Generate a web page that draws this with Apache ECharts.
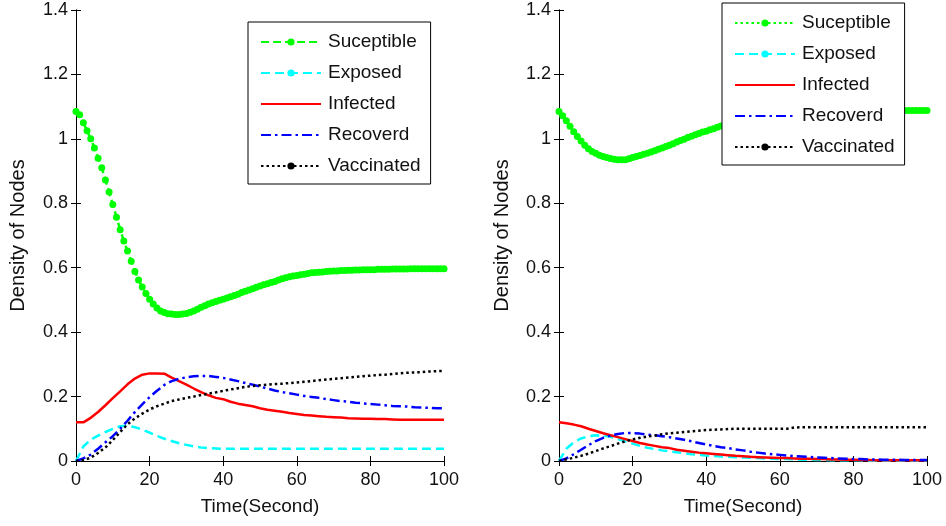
<!DOCTYPE html>
<html>
<head>
<meta charset="utf-8">
<title>SEIRV density</title>
<script src="https://cdn.jsdelivr.net/npm/echarts@6/dist/echarts.min.js"></script>
<style>
  html, body { margin: 0; padding: 0; background: #fff; }
  #chart { width: 946px; height: 526px; }
</style>
</head>
<body>
<div id="chart"></div>
<script>
// time axis (seconds) for the coarse curves
const time = [0, 2, 4, 6, 8, 10, 12, 14, 16, 18, 20, 22, 24, 26, 28, 30, 32, 34, 36, 38, 40,
  42, 44, 46, 48, 50, 52, 54, 56, 58, 60, 62, 64, 66, 68, 70, 72, 74, 76, 78, 80,
  82, 84, 86, 88, 90, 92, 94, 96, 98, 100];
// the susceptible curves carry a marker every second
const timeFine = [0, 1, 2, 3, 4, 5, 6, 7, 8, 9, 10, 11, 12, 13, 14, 15, 16, 17, 18, 19, 20,
  21, 22, 23, 24, 25, 26, 27, 28, 29, 30, 31, 32, 33, 34, 35, 36, 37, 38, 39, 40,
  41, 42, 43, 44, 45, 46, 47, 48, 49, 50, 51, 52, 53, 54, 55, 56, 57, 58, 59, 60,
  61, 62, 63, 64, 65, 66, 67, 68, 69, 70, 71, 72, 73, 74, 75, 76, 77, 78, 79, 80,
  81, 82, 83, 84, 85, 86, 87, 88, 89, 90, 91, 92, 93, 94, 95, 96, 97, 98, 99, 100];

const yTicks = [0, 0.2, 0.4, 0.6, 0.8, 1, 1.2, 1.4];

const seriesNames = ["Suceptible", "Exposed", "Infected", "Recoverd", "Vaccinated"];

// left panel
const leftSusceptible = [1.085, 1.075, 1.05, 1.025, 1.0, 0.972, 0.94, 0.91, 0.872, 0.835, 0.796,
  0.757, 0.718, 0.683, 0.652, 0.620, 0.588, 0.562, 0.540, 0.520, 0.502,
  0.487, 0.475, 0.466, 0.461, 0.457, 0.456, 0.455, 0.455, 0.456, 0.458,
  0.462, 0.466, 0.471, 0.477, 0.482, 0.487, 0.491, 0.495, 0.499, 0.502,
  0.506, 0.510, 0.514, 0.518, 0.523, 0.527, 0.531, 0.535, 0.539, 0.543,
  0.547, 0.550, 0.554, 0.557, 0.562, 0.566, 0.569, 0.572, 0.574, 0.576,
  0.578, 0.580, 0.582, 0.584, 0.585, 0.586, 0.587, 0.588, 0.589, 0.590,
  0.590, 0.591, 0.591, 0.592, 0.592, 0.593, 0.593, 0.594, 0.594, 0.594,
  0.594, 0.595, 0.595, 0.595, 0.595, 0.596, 0.596, 0.596, 0.596, 0.596,
  0.597, 0.597, 0.597, 0.597, 0.597, 0.597, 0.597, 0.597, 0.597, 0.597];
const leftExposed = [0, 0.045, 0.066, 0.079, 0.09, 0.1, 0.108, 0.11, 0.105, 0.097, 0.088,
  0.078, 0.069, 0.062, 0.055, 0.05, 0.045, 0.042, 0.04, 0.039, 0.038,
  0.038, 0.038, 0.038, 0.038, 0.038, 0.038, 0.038, 0.038, 0.038, 0.038,
  0.038, 0.038, 0.038, 0.038, 0.038, 0.038, 0.038, 0.038, 0.038, 0.038,
  0.038, 0.038, 0.038, 0.038, 0.038, 0.038, 0.038, 0.038, 0.038, 0.038];
const leftInfected = [0.12, 0.12, 0.134, 0.152, 0.173, 0.195, 0.216, 0.238, 0.256, 0.268, 0.272,
  0.272, 0.271, 0.259, 0.248, 0.237, 0.225, 0.214, 0.204, 0.196, 0.192,
  0.184, 0.178, 0.174, 0.170, 0.164, 0.159, 0.156, 0.153, 0.149, 0.146,
  0.143, 0.141, 0.139, 0.137, 0.136, 0.135, 0.133, 0.132, 0.131, 0.131,
  0.130, 0.130, 0.129, 0.128, 0.128, 0.128, 0.128, 0.128, 0.128, 0.128];
const leftRecovered = [0, 0.008, 0.02, 0.038, 0.058, 0.077, 0.1, 0.125, 0.152, 0.176, 0.198,
  0.218, 0.236, 0.248, 0.255, 0.260, 0.263, 0.264, 0.264, 0.261, 0.258,
  0.253, 0.248, 0.242, 0.237, 0.231, 0.225, 0.219, 0.214, 0.210, 0.206,
  0.202, 0.199, 0.196, 0.192, 0.189, 0.186, 0.184, 0.181, 0.179, 0.177,
  0.175, 0.173, 0.171, 0.170, 0.169, 0.167, 0.166, 0.165, 0.164, 0.164];
const leftVaccinated = [0, 0.003, 0.01, 0.025, 0.042, 0.065, 0.09, 0.114, 0.132, 0.147, 0.16,
  0.17, 0.178, 0.186, 0.191, 0.196, 0.2, 0.205, 0.209, 0.213, 0.218,
  0.222, 0.226, 0.23, 0.233, 0.235, 0.237, 0.239, 0.24, 0.242, 0.244,
  0.246, 0.248, 0.251, 0.253, 0.255, 0.257, 0.259, 0.261, 0.263, 0.265,
  0.267, 0.268, 0.27, 0.272, 0.274, 0.275, 0.276, 0.278, 0.279, 0.28];

// right panel
const rightSusceptible = [1.085, 1.072, 1.056, 1.039, 1.022, 1.007, 0.993, 0.980, 0.969, 0.961, 0.955,
  0.949, 0.945, 0.942, 0.939, 0.937, 0.935, 0.935, 0.935, 0.938, 0.942,
  0.945, 0.948, 0.952, 0.955, 0.959, 0.963, 0.968, 0.972, 0.976, 0.980,
  0.985, 0.990, 0.995, 0.999, 1.004, 1.008, 1.013, 1.017, 1.021, 1.024,
  1.028, 1.031, 1.036, 1.040, 1.043, 1.046, 1.049, 1.052, 1.055, 1.057,
  1.059, 1.061, 1.063, 1.065, 1.067, 1.068, 1.070, 1.071, 1.072, 1.073,
  1.074, 1.075, 1.076, 1.077, 1.078, 1.079, 1.079, 1.080, 1.080, 1.081,
  1.081, 1.082, 1.082, 1.083, 1.083, 1.084, 1.084, 1.085, 1.085, 1.085,
  1.086, 1.086, 1.086, 1.087, 1.087, 1.087, 1.087, 1.087, 1.087, 1.087,
  1.088, 1.088, 1.088, 1.088, 1.088, 1.088, 1.088, 1.088, 1.088, 1.088];
const rightExposed = [0, 0.038, 0.058, 0.07, 0.077, 0.08, 0.079, 0.075, 0.068, 0.061, 0.054,
  0.047, 0.041, 0.037, 0.033, 0.03, 0.027, 0.024, 0.021, 0.019, 0.017,
  0.016, 0.014, 0.013, 0.012, 0.011, 0.01, 0.009, 0.008, 0.007, 0.006,
  0.006, 0.005, 0.004, 0.004, 0.003, 0.003, 0.002, 0.002, 0.002, 0.002,
  0.002, 0.001, 0.001, 0.001, 0.001, 0.001, 0.001, 0.001, 0.001, 0.001];
const rightInfected = [0.12, 0.117, 0.113, 0.108, 0.1, 0.093, 0.086, 0.08, 0.074, 0.068, 0.062,
  0.056, 0.051, 0.047, 0.043, 0.04, 0.035, 0.032, 0.029, 0.026, 0.024,
  0.022, 0.02, 0.018, 0.016, 0.015, 0.013, 0.012, 0.011, 0.01, 0.009,
  0.009, 0.008, 0.007, 0.007, 0.006, 0.006, 0.005, 0.005, 0.004, 0.004,
  0.003, 0.003, 0.002, 0.002, 0.002, 0.002, 0.002, 0.002, 0.002, 0.002];
const rightRecovered = [0, 0.008, 0.021, 0.035, 0.049, 0.062, 0.072, 0.079, 0.084, 0.087, 0.087,
  0.085, 0.082, 0.08, 0.077, 0.074, 0.07, 0.066, 0.061, 0.056, 0.051,
  0.047, 0.043, 0.04, 0.036, 0.033, 0.029, 0.026, 0.023, 0.021, 0.019,
  0.017, 0.015, 0.014, 0.013, 0.011, 0.01, 0.009, 0.008, 0.007, 0.006,
  0.006, 0.005, 0.005, 0.004, 0.004, 0.004, 0.003, 0.003, 0.003, 0.003];
const rightVaccinated = [0, 0.005, 0.01, 0.016, 0.023, 0.031, 0.039, 0.046, 0.054, 0.061, 0.067,
  0.072, 0.076, 0.079, 0.083, 0.086, 0.088, 0.09, 0.092, 0.094, 0.096,
  0.097, 0.098, 0.099, 0.1, 0.1, 0.1, 0.1, 0.1, 0.1, 0.1,
  0.1, 0.104, 0.105, 0.105, 0.105, 0.105, 0.105, 0.105, 0.105, 0.105,
  0.105, 0.105, 0.105, 0.105, 0.105, 0.105, 0.105, 0.105, 0.105, 0.105];

const FONT = "Liberation Sans, Arial, Helvetica, sans-serif";
const chartInstance = echarts.init(document.getElementById("chart"), null, { renderer: "canvas" });

function pairs(xs, values) {
  return xs.map((t, i) => [t, values[i]]);
}

// one line series; panel 0 = left, 1 = right
function makeLine(name, xs, values, panel, color, dash, withDots) {
  return {
    name: name,
    type: "line",
    xAxisIndex: panel * 2,
    yAxisIndex: panel * 2,
    data: pairs(xs, values),
    symbol: "circle",
    symbolSize: 7,
    showSymbol: withDots,
    lineStyle: { color: color, width: 2.5, type: dash },
    itemStyle: { color: color },
    emphasis: { disabled: true },
    z: 2,
  };
}

function bottomAxis(gridIndex) {
  return {
    type: "value", gridIndex: gridIndex, min: 0, max: 100, interval: 20,
    name: "Time(Second)", nameLocation: "middle", nameGap: 36,
    nameTextStyle: { fontSize: 19, color: "#111", fontFamily: FONT },
    axisLine: { lineStyle: { color: "#000", width: 1 } },
    axisTick: { inside: true, length: 5, lineStyle: { color: "#000" } },
    axisLabel: { fontSize: 18, color: "#111", fontFamily: FONT, margin: 10 },
    splitLine: { show: false },
  };
}

function topAxis(gridIndex) {
  return {
    type: "value", gridIndex: gridIndex, position: "top", min: 0, max: 100, interval: 20,
    axisLine: { lineStyle: { color: "#000", width: 1 } },
    axisTick: { inside: true, length: 5, lineStyle: { color: "#000" } },
    axisLabel: { show: false },
    splitLine: { show: false },
  };
}

function leftAxis(gridIndex, gap) {
  return {
    type: "value", gridIndex: gridIndex, min: yTicks[0], max: yTicks[yTicks.length - 1], interval: 0.2,
    name: "Density of Nodes", nameLocation: "middle", nameGap: gap,
    nameTextStyle: { fontSize: 20, color: "#111", fontFamily: FONT },
    axisLine: { lineStyle: { color: "#000", width: 1 } },
    axisTick: { inside: true, length: 5, lineStyle: { color: "#000" } },
    axisLabel: { fontSize: 18, color: "#111", fontFamily: FONT, margin: 8 },
    splitLine: { show: false },
  };
}

function rightAxis(gridIndex) {
  return {
    type: "value", gridIndex: gridIndex, position: "right", min: 0, max: 1.4, interval: 0.2,
    axisLine: { show: true, lineStyle: { color: "#000", width: 1 } },
    axisTick: { show: true, inside: true, length: 5, lineStyle: { color: "#000" } },
    axisLabel: { show: false },
    splitLine: { show: false },
  };
}

function makeLegend(left, top, greenDash) {
  return {
    orient: "vertical",
    left: left,
    top: top,
    itemWidth: 60,
    itemHeight: 9,
    itemGap: 11,
    padding: [10, 10, 8, 12],
    backgroundColor: "#fff",
    borderColor: "#000",
    borderWidth: 1,
    borderRadius: 0,
    selectedMode: false,
    textStyle: { fontSize: 19, lineHeight: 20, color: "#111", fontFamily: FONT, padding: [0, 0, 0, 2] },
    data: [
      { name: seriesNames[0], lineStyle: { type: greenDash } },
      { name: seriesNames[1] },
      // no marker in the key for these two
      { name: seriesNames[2], itemStyle: { opacity: 0 } },
      { name: seriesNames[3], itemStyle: { opacity: 0 } },
      { name: seriesNames[4] },
    ],
    z: 10,
  };
}

const option = {
  animation: false,
  backgroundColor: "#fff",
  grid: [
    { left: 76, top: 10, width: 368, height: 451 },
    { left: 559, top: 10, width: 368, height: 451 },
  ],
  xAxis: [bottomAxis(0), topAxis(0), bottomAxis(1), topAxis(1)],
  yAxis: [leftAxis(0, 48), rightAxis(0), leftAxis(1, 47), rightAxis(1)],
  legend: [makeLegend(248, 22, [8, 4]), makeLegend(722, 3, [2.5, 3])],
  series: [
    makeLine(seriesNames[0], timeFine, leftSusceptible, 0, "#00ff00", [8, 4], true),
    makeLine(seriesNames[1], time, leftExposed, 0, "#00ffff", [9, 5], false),
    makeLine(seriesNames[2], time, leftInfected, 0, "#ff0000", "solid", false),
    makeLine(seriesNames[3], time, leftRecovered, 0, "#0000ff", [10, 4, 2.5, 4], false),
    makeLine(seriesNames[4], time, leftVaccinated, 0, "#000000", [2.5, 3], false),
    makeLine(seriesNames[0], timeFine, rightSusceptible, 1, "#00ff00", [2.5, 3], true),
    makeLine(seriesNames[1], time, rightExposed, 1, "#00ffff", [9, 5], false),
    makeLine(seriesNames[2], time, rightInfected, 1, "#ff0000", "solid", false),
    makeLine(seriesNames[3], time, rightRecovered, 1, "#0000ff", [10, 4, 2.5, 4], false),
    makeLine(seriesNames[4], time, rightVaccinated, 1, "#000000", [2.5, 3], false),
  ],
};

chartInstance.setOption(option);
</script>
</body>
</html>
